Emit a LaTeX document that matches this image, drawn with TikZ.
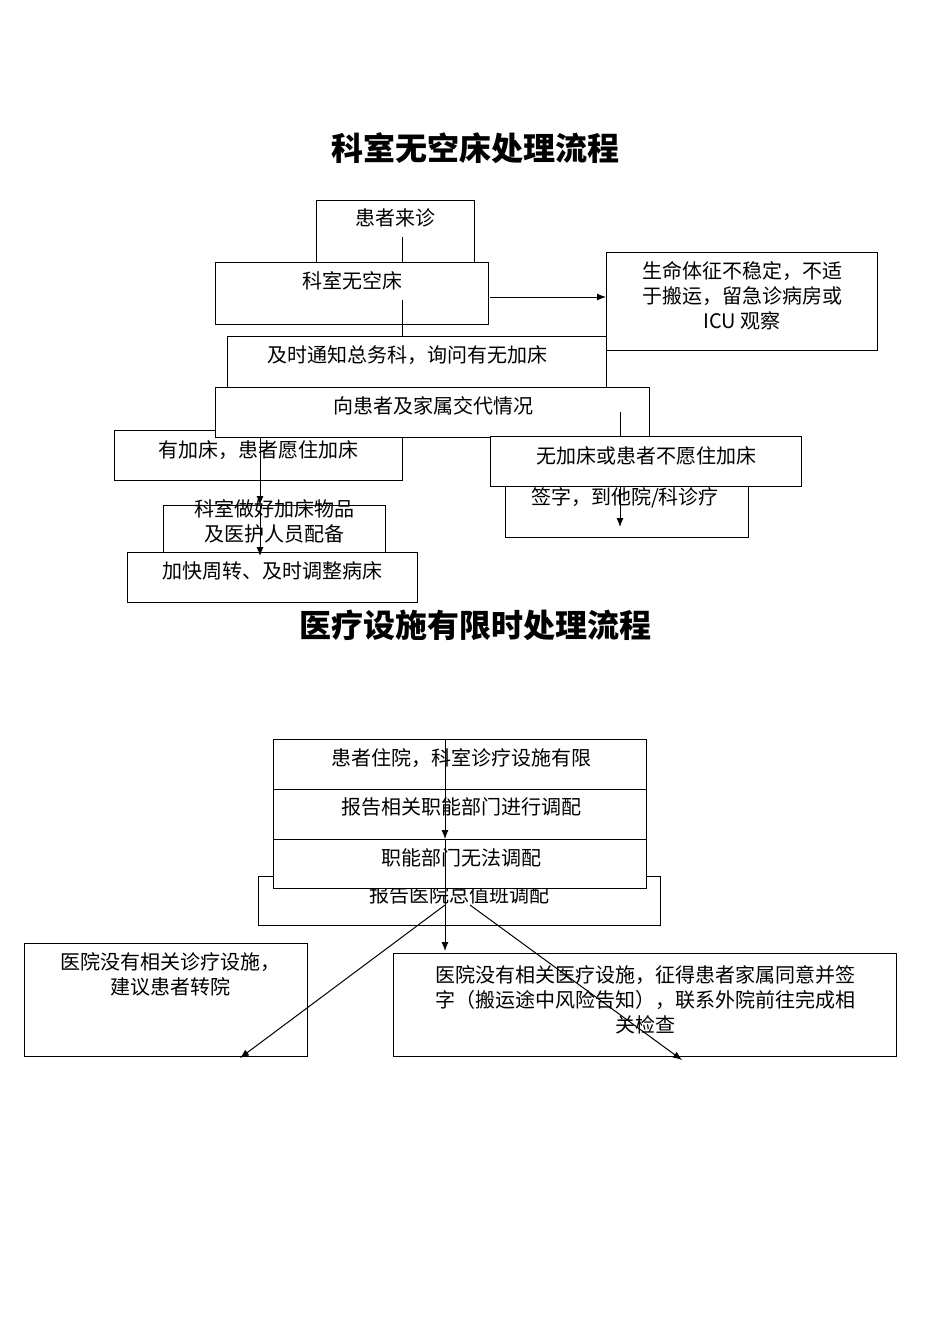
\documentclass[tikz,border=0pt]{standalone}
\usepackage{fontspec}
\setmainfont{Noto Sans CJK SC}
\usetikzlibrary{arrows.meta}
\tikzset{
  x=1pt,y=-1pt,
  box/.style={draw,fill=white,line width=1.2pt,inner sep=0pt,anchor=north west},
  txt/.style={font=\fontsize{20}{25}\selectfont,align=center,inner sep=0pt},
  ttl/.style={font=\fontsize{32}{36}\selectfont\bfseries,inner sep=0pt},
  ln/.style={line width=1pt},
  arr/.style={line width=1pt,-{Latex[length=9pt,width=7pt]}}
}
\newcommand{\bx}[5]{\node[box,minimum width=#4,minimum height=#5] (#1) at (#2,#3) {};}
\begin{document}
\begin{tikzpicture}
\useasboundingbox (0,0) rectangle (950,1344);
\node[ttl] (t1) at (475,148) {科室无空床处理流程};
\node[ttl] (t2) at (475,625) {医疗设施有限时处理流程};
% top chart
\bx{a}{316}{200}{158}{62}
\node[txt] (ta) at (395,218) {患者来诊};
\bx{b}{215}{262}{273}{62}
\node[txt] (tb) at (352,281) {科室无空床};
\bx{r}{606}{252}{271}{98}
\node[txt] (tr) at (742,296) {生命体征不稳定，不适\\于搬运，留急诊病房或\\ICU 观察};
\bx{c}{227}{336}{379}{51}
\node[txt] (tc) at (407,355) {及时通知总务科，询问有无加床};
\bx{d0}{114}{430}{288}{50}
\bx{d}{215}{387}{434}{50}
\node[txt] (td) at (433,406) {向患者及家属交代情况};
\node[txt] (td0) at (258,450) {有加床，患者愿住加床};
\bx{e0}{505}{478}{243}{59}
\bx{e}{490}{436}{311}{50}
\node[txt] (te) at (646,456) {无加床或患者不愿住加床};
\node[txt] (te0) at (625,498) {签字，到他院/科诊疗};
\bx{f0}{163}{505}{222}{55}
\node[txt,text height=12pt] (tf0) at (274,536) {科室做好加床物品\\及医护人员配备};
\bx{f}{127}{552}{290}{50}
\node[txt] (tf) at (272,571) {加快周转、及时调整病床};
\coordinate (p1) at (402,237);
\coordinate (p2) at (402,336);
\draw[ln] (p1) -- (402,262);
\draw[ln] (402,300) -- (p2);
\coordinate (q1) at (490,297);
\draw[arr] (q1) -- (r.west|-q1);
\coordinate (s1) at (260,437);
\draw[arr] (s1) -- (260,505);
\draw[arr] (260,505) -- (260,556);
\coordinate (u1) at (620,412);
\draw[ln] (u1) -- (620,436);
\draw[arr] (620,486) -- (620,527);
% bottom chart
\bx{g3}{258}{876}{402}{49}
\node[txt] (tg3) at (459,895) {报告医院总值班调配};
\bx{g0}{273}{739}{373}{50}
\node[txt] (tg0) at (461,758) {患者住院，科室诊疗设施有限};
\bx{g1}{273}{789}{373}{50}
\node[txt] (tg1) at (461,807) {报告相关职能部门进行调配};
\bx{g2}{273}{839}{373}{49}
\node[txt] (tg2) at (461,858) {职能部门无法调配};
\bx{h1}{24}{943}{283}{113}
\node[txt] (th1) at (170,974) {医院没有相关诊疗设施，\\建议患者转院};
\bx{h2}{393}{953}{503}{103}
\node[txt] (th2) at (645,1000) {医院没有相关医疗设施，征得患者家属同意并签\\字（搬运途中风险告知），联系外院前往完成相\\关检查};
\coordinate (v0) at (445,739);
\draw[arr] (v0) -- (445,839);
\draw[arr] (445,839) -- (445,951);
\coordinate (w0) at (445,905);
\coordinate (w1) at (240,1058);
\draw[arr] (w0) -- (w1);
\coordinate (z0) at (470,905);
\coordinate (z1) at (682,1060);
\draw[arr] (z0) -- (z1);
\end{tikzpicture}
\end{document}
